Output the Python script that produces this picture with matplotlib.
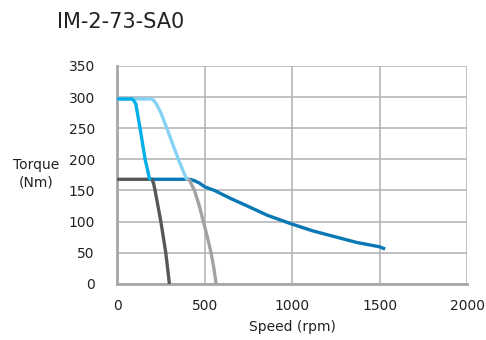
import numpy as np
import matplotlib.pyplot as plt

plt.rcParams['font.family'] = ['DejaVu Sans']

# curve points (speed rpm, torque Nm)
lightblue_x = [0, 195, 212, 228, 250, 284, 317, 350, 375, 394, 402]
lightblue_y = [297, 297, 294, 287, 275, 250, 225, 200, 183, 170, 167]

grey_x = [398, 413, 442, 470, 493, 516, 537, 553, 566]
grey_y = [169, 167, 150, 125, 100, 75, 50, 25, 0]

brightblue_x = [0, 86, 96, 107, 131, 160, 185, 195]
brightblue_y = [297, 297, 294, 289, 250, 200, 169, 168]

darkgrey_x = [0, 198, 208, 217, 250, 278, 299]
darkgrey_y = [168, 168, 162, 150, 100, 50, 0]

darkblue_x = [198, 415, 440, 470, 500, 557, 650, 745, 860, 1000, 1120, 1255, 1370, 1500, 1523]
darkblue_y = [168, 168, 166, 162, 156, 150, 137, 125, 110, 96, 85, 75, 66.5, 59.6, 57]

fig = plt.figure(figsize=(4.86, 3.4), dpi=100)
ax = fig.add_axes([0.241, 0.165, 0.72, 0.641])

lw = 2.4
ax.plot(darkblue_x, darkblue_y, color='#0a78b4', lw=lw, solid_joinstyle='round', zorder=3)
ax.plot(grey_x, grey_y, color='#a0a2a4', lw=lw, solid_joinstyle='round', solid_capstyle='butt', zorder=3)
ax.plot(lightblue_x, lightblue_y, color='#86d2f4', lw=lw, solid_joinstyle='round', solid_capstyle='butt', zorder=3)
ax.plot(darkgrey_x, darkgrey_y, color='#555759', lw=lw, solid_joinstyle='round', solid_capstyle='butt', zorder=4)
ax.plot(brightblue_x, brightblue_y, color='#00aee8', lw=lw, solid_joinstyle='round', solid_capstyle='butt', zorder=4)

ax.set_xlim(0, 2000)
ax.set_ylim(0, 350)
ax.set_xticks([0, 500, 1000, 1500, 2000])
ax.set_yticks(np.arange(0, 351, 50))
ax.grid(True, color='#b4b5b7', lw=1.2)
ax.set_axisbelow(True)
for s in ['top', 'right']:
    ax.spines[s].set_visible(False)
for s in ['left', 'bottom']:
    ax.spines[s].set_color('#a5a7a9')
    ax.spines[s].set_linewidth(2)
ax.tick_params(axis='y', length=0, labelsize=10, colors='#222222', pad=16)
ax.tick_params(axis='x', length=0, labelsize=10, colors='#222222', pad=11)

ax.set_xlabel('Speed (rpm)', fontsize=10, color='#222222', labelpad=5)
fig.text(0.074, 0.49, 'Torque\n(Nm)', fontsize=10, color='#222222', ha='center', va='center', linespacing=1.3)
fig.text(0.117, 0.935, 'IM-2-73-SA0', fontsize=15, color='#222222', ha='left', va='center')

fig.savefig('out.png', dpi=100)
